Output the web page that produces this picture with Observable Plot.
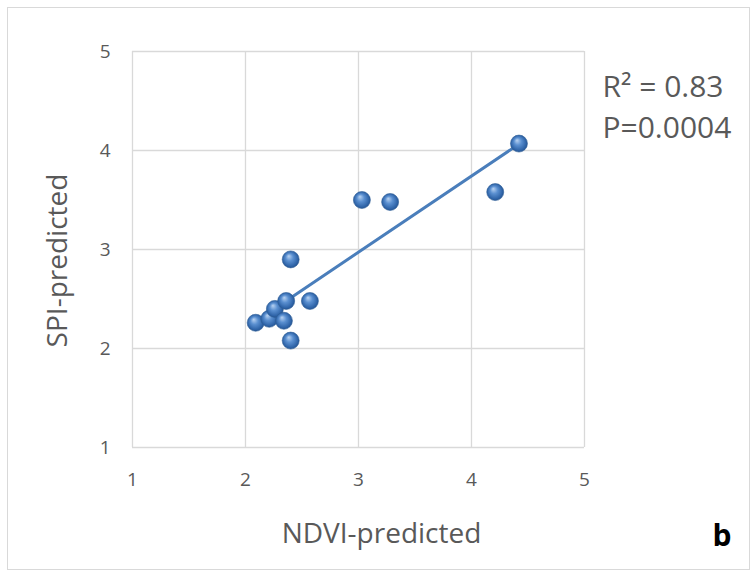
<!DOCTYPE html>
<html>
<head>
<meta charset="utf-8">
<script src="https://cdn.jsdelivr.net/npm/d3@7"></script>
<script src="https://cdn.jsdelivr.net/npm/@observablehq/plot@0.6"></script>
<style>
  html, body { margin: 0; padding: 0; background: #fff; }
  #wrap { position: relative; width: 754px; height: 575px; overflow: hidden; }
  #border { position: absolute; left: 7px; top: 7px; width: 741px; height: 561px; border: 1px solid #d9d9d9; pointer-events: none; }
</style>
</head>
<body>
<div id="wrap"><div id="border"></div></div>
<script>
// Data
const ndvi = [2.09, 2.21, 2.26, 2.34, 2.36, 2.40, 2.40, 2.57, 3.03, 3.28, 4.21, 4.42];
const spi  = [2.26, 2.30, 2.40, 2.28, 2.48, 2.08, 2.90, 2.48, 3.50, 3.48, 3.58, 4.07];
const ticks = [1, 2, 3, 4, 5];
const xLabel = "NDVI-predicted";
const yLabel = "SPI-predicted";
const statsLines = ["R\u00B2 = 0.83", "P=0.0004"];
const panelLetter = "b";

const points = ndvi.map((x, i) => ({x, y: spi[i]}));
const gray = "#595959";
const font = "'Open Sans', sans-serif";

const chart = Plot.plot({
  width: 754,
  height: 575,
  marginLeft: 132,
  marginRight: 170,
  marginTop: 51,
  marginBottom: 128,
  style: {fontFamily: font, background: "transparent"},
  x: {domain: [1, 5], ticks},
  y: {domain: [1, 5], ticks},
  marks: [
    Plot.gridX(ticks, {stroke: "#d9d9d9", strokeOpacity: 1, strokeWidth: 1.3}),
    Plot.gridY(ticks, {stroke: "#d9d9d9", strokeOpacity: 1, strokeWidth: 1.3}),
    Plot.axisX(ticks, {tickSize: 0, tickPadding: 25, fontSize: 19, fill: gray, label: null, tickFormat: d => String(d)}),
    Plot.axisY(ticks, {tickSize: 0, tickPadding: 22, fontSize: 19, fill: gray, label: null, tickFormat: d => String(d)}),
    Plot.linearRegressionY(points, {x: "x", y: "y", ci: 0, stroke: "#4a7ebb", strokeWidth: 3}),
    Plot.dot(points, {x: "x", y: "y", r: 8.5, fill: "url(#ball)", stroke: "#2f5f98", strokeWidth: 0.6}),
    Plot.text([xLabel], {text: d => d, frameAnchor: "bottom", textAnchor: "middle", lineAnchor: "bottom", dx: 23, dy: 95, fontSize: 28, fill: gray}),
    Plot.text([yLabel], {text: d => d, frameAnchor: "left", textAnchor: "middle", lineAnchor: "bottom", rotate: -90, dx: -66, dy: 11, fontSize: 28, fill: gray}),
    Plot.text([statsLines.join("\n")], {text: d => d, frameAnchor: "top-right", textAnchor: "start", lineAnchor: "top", dx: 18, dy: 17, fontSize: 30, lineHeight: 1.36, fill: gray}),
    Plot.text([panelLetter], {text: d => d, frameAnchor: "bottom-right", textAnchor: "start", lineAnchor: "bottom", dx: 128, dy: 98, fontSize: 30, fontWeight: "bold", fill: "#000"})
  ]
});

const defs = d3.select(chart).insert("defs", ":first-child");
const g = defs.append("radialGradient").attr("id", "ball")
  .attr("cx", "50%").attr("cy", "50%").attr("r", "55%")
  .attr("fx", "38%").attr("fy", "30%");
g.append("stop").attr("offset", "0%").attr("stop-color", "#b9d3f2");
g.append("stop").attr("offset", "40%").attr("stop-color", "#5a8fd0");
g.append("stop").attr("offset", "80%").attr("stop-color", "#2f64a8");
g.append("stop").attr("offset", "100%").attr("stop-color", "#224c85");

chart.style.position = "absolute";
chart.style.left = "0";
chart.style.top = "0";
document.getElementById("wrap").insertBefore(chart, document.getElementById("border"));
</script>
</body>
</html>
